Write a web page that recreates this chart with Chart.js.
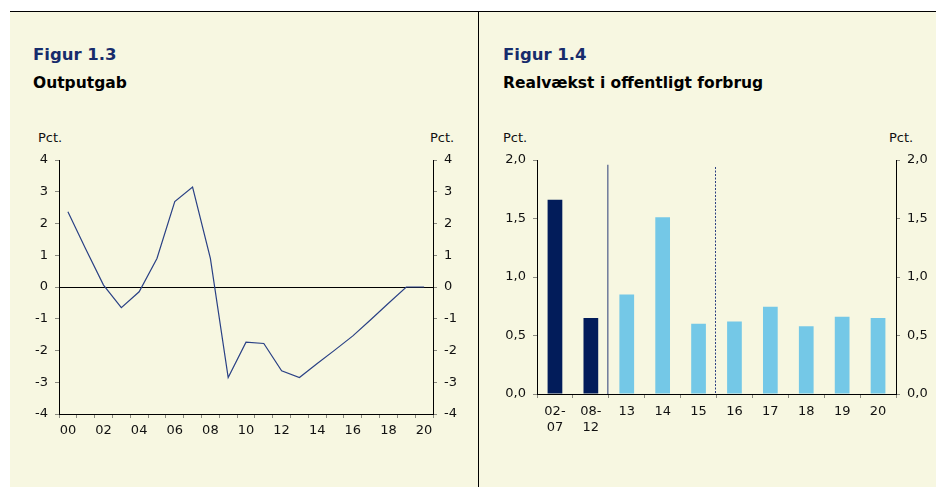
<!DOCTYPE html>
<html>
<head>
<meta charset="utf-8">
<script src="https://cdn.jsdelivr.net/npm/chart.js@4/dist/chart.umd.min.js"></script>
<style>
  body { margin: 0; width: 936px; height: 487px; overflow: hidden; position: relative; background: #fff; font-family: 'DejaVu Sans', sans-serif; }
  .abs { position: absolute; }
  .panel { position: absolute; top: 12px; height: 475px; background: #F7F7E1; }
  .figur { position: absolute; font-size: 16.5px; font-weight: bold; color: #172C6C; line-height: 1; white-space: nowrap; }
  .titel { position: absolute; font-size: 15.5px; font-weight: bold; color: #000; line-height: 1; white-space: nowrap; }
  .pct { position: absolute; font-size: 13px; color: #111; line-height: 1; }
  canvas { position: absolute; }
</style>
</head>
<body>
<div class="abs" style="left:10px;top:11px;width:926px;height:1px;background:#000"></div>
<div class="panel" style="left:10px;width:468px"></div>
<div class="abs" style="left:478px;top:11px;width:1px;height:476px;background:#000"></div>
<div class="panel" style="left:479px;width:457px"></div>

<div class="figur" style="left:33px;top:47px">Figur 1.3</div>
<div class="titel" style="left:33px;top:76px">Outputgab</div>
<div class="pct" style="left:38px;top:131px">Pct.</div>
<div class="pct" style="left:430px;top:131px">Pct.</div>

<div class="figur" style="left:503px;top:47px">Figur 1.4</div>
<div class="titel" style="left:503px;top:76px">Realvækst i offentligt forbrug</div>
<div class="pct" style="left:503px;top:131px">Pct.</div>
<div class="pct" style="left:889px;top:131px">Pct.</div>

<canvas id="outputgab" width="468" height="347" style="left:10px;top:140px"></canvas>
<canvas id="forbrug" width="455" height="347" style="left:481px;top:140px"></canvas>

<script>
// Figur 1.3 - outputgab, pct.
const aar = ['00','01','02','03','04','05','06','07','08','09','10',
             '11','12','13','14','15','16','17','18','19','20'];
const outputgab = [2.37, 1.2, 0.06, -0.65, -0.15, 0.9, 2.69, 3.15, 0.9, -2.85, -1.74,
                   -1.78, -2.64, -2.85, -2.41, -1.98, -1.54, -1.03, -0.51, 0.0, 0.0];

// Figur 1.4 - realvaekst i offentligt forbrug, pct.
const perioder = [['02-','07'], ['08-','12'], '13', '14', '15', '16', '17', '18', '19', '20'];
const realvaekst = [1.66, 0.65, 0.85, 1.51, 0.60, 0.62, 0.745, 0.58, 0.66, 0.65];
const antalHist = 2;

const tickFont = { family: "'DejaVu Sans', sans-serif", size: 13 };
const tekstFarve = '#111';
const tickGraa = '#8A8A80';

function yAkse(pos, min, max, step, bredde, fmt, nulLinje) {
    return {
        position: pos,
        min: min,
        max: max,
        grid: {
            drawOnChartArea: !!nulLinje,
            color: (c) => (nulLinje && c.tick && c.tick.value === 0) ? '#000' : 'rgba(0,0,0,0)',
            tickColor: tickGraa,
            tickLength: 4
        },
        border: { display: true, color: '#000', width: 1 },
        ticks: {
            stepSize: step,
            padding: 7,
            font: tickFont,
            color: tekstFarve,
            callback: fmt
        },
        afterFit: (s) => { s.width = bredde; }
    };
}

// linjediagram
new Chart(document.getElementById('outputgab').getContext('2d'), {
    type: 'line',
    data: {
        labels: aar,
        datasets: [{
            data: outputgab,
            borderColor: '#2A4185',
            borderWidth: 1.2,
            pointRadius: 0,
            tension: 0,
            fill: false
        }]
    },
    options: {
        responsive: false,
        animation: false,
        devicePixelRatio: 1,
        layout: { padding: { top: 20, left: 0, right: 0, bottom: 0 } },
        plugins: { legend: { display: false }, tooltip: { enabled: false } },
        scales: {
            x: {
                offset: true,
                grid: { offset: true, drawOnChartArea: false, tickColor: tickGraa, tickLength: 4 },
                border: { color: '#000', width: 1 },
                ticks: {
                    autoSkip: false,
                    maxRotation: 0,
                    padding: 5,
                    font: tickFont,
                    color: tekstFarve,
                    callback: function (v, i) { return i % 2 === 0 ? this.getLabelForValue(v) : ''; }
                },
                afterFit: (s) => { s.height = 73; }
            },
            y: yAkse('left', -4, 4, 1, 49, (v) => v, true),
            y2: yAkse('right', -4, 4, 1, 45, (v) => v, false)
        }
    }
});

// lodrette skillelinjer mellem historik / skon / fremskrivning
const skillelinjer = {
    id: 'skillelinjer',
    afterDatasetsDraw(chart) {
        const { ctx, scales: { x, y } } = chart;
        const grense = (i) => (x.getPixelForValue(i) + x.getPixelForValue(i + 1)) / 2;
        ctx.save();
        ctx.strokeStyle = '#6F7A9A';
        ctx.lineWidth = 1.5;
        ctx.beginPath();
        ctx.moveTo(grense(antalHist - 1) - 1, y.getPixelForValue(1.96));
        ctx.lineTo(grense(antalHist - 1) - 1, y.bottom);
        ctx.stroke();

        ctx.strokeStyle = '#2B3F80';
        ctx.lineWidth = 1;
        ctx.setLineDash([2, 1.5]);
        const xd = Math.round(grense(4)) - 1.5;
        ctx.beginPath();
        ctx.moveTo(xd, y.getPixelForValue(1.94));
        ctx.lineTo(xd, y.bottom);
        ctx.stroke();
        ctx.restore();
    }
};

const fmtKomma = (v) => Number(v).toFixed(1).replace('.', ',');

// soejlediagram
new Chart(document.getElementById('forbrug').getContext('2d'), {
    type: 'bar',
    data: {
        labels: perioder,
        datasets: [{
            data: realvaekst,
            backgroundColor: realvaekst.map((v, i) => i < antalHist ? '#021C5A' : '#74C8E7'),
            borderWidth: 0,
            barPercentage: 0.41,
            categoryPercentage: 1
        }]
    },
    options: {
        responsive: false,
        animation: false,
        devicePixelRatio: 1,
        layout: { padding: { top: 20, left: 0, right: 0, bottom: 0 } },
        plugins: { legend: { display: false }, tooltip: { enabled: false } },
        scales: {
            x: {
                grid: { offset: true, drawOnChartArea: false, tickColor: tickGraa, tickLength: 4 },
                border: { color: '#000', width: 1 },
                ticks: {
                    autoSkip: false,
                    maxRotation: 0,
                    padding: 5,
                    font: { family: tickFont.family, size: 13, lineHeight: 1.25 },
                    color: tekstFarve
                },
                afterFit: (s) => { s.height = 93; }
            },
            y: yAkse('left', 0, 2, 0.5, 56, fmtKomma, false),
            y2: yAkse('right', 0, 2, 0.5, 40, fmtKomma, false)
        }
    },
    plugins: [skillelinjer]
});
</script>
</body>
</html>
